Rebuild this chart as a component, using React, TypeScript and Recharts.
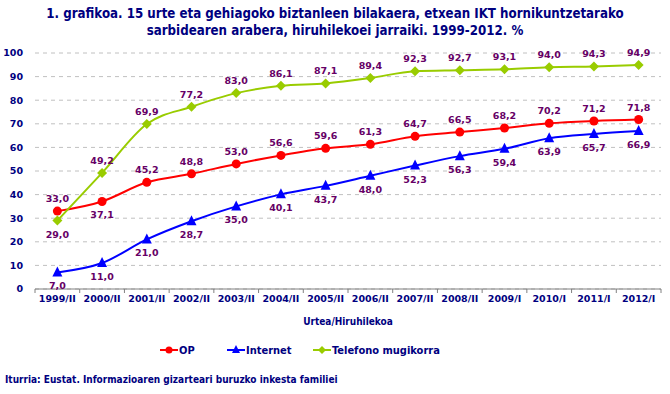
import { LineChart, Line, XAxis, YAxis, CartesianGrid, LabelList } from "recharts";

const periods = [
  "1999/II", "2000/II", "2001/II", "2002/II", "2003/II", "2004/II", "2005/II",
  "2006/II", "2007/II", "2008/II", "2009/I", "2010/I", "2011/I", "2012/I",
];
const op = [33.0, 37.1, 45.2, 48.8, 53.0, 56.6, 59.6, 61.3, 64.7, 66.5, 68.2, 70.2, 71.2, 71.8];
const internet = [7.0, 11.0, 21.0, 28.7, 35.0, 40.1, 43.7, 48.0, 52.3, 56.3, 59.4, 63.9, 65.7, 66.9];
const mobile = [29.0, 49.2, 69.9, 77.2, 83.0, 86.1, 87.1, 89.4, 92.3, 92.7, 93.1, 94.0, 94.3, 94.9];
const yTicks = [0, 10, 20, 30, 40, 50, 60, 70, 80, 90, 100];

// label above (1) or below (-1) the point
const opSide = [1, -1, 1, 1, 1, 1, 1, 1, 1, 1, 1, 1, 1, 1];
const internetSide = periods.map(() => -1);
const mobileSide = [-1, 1, 1, 1, 1, 1, 1, 1, 1, 1, 1, 1, 1, 1];

const data = periods.map((p, i) => ({ p, op: op[i], internet: internet[i], mobile: mobile[i] }));

const NAVY = "#000080";
const LABEL = "#660066";
const FONT = "'DejaVu Sans', Verdana, sans-serif";
const TFONT = "'DejaVu Sans Condensed', 'DejaVu Sans', Tahoma, sans-serif";

const W = 670;
const H = 394;
const margin = { top: 53, right: 9, left: 0, bottom: 75 };
const yAxisW = 35;
const step = (W - margin.right - yAxisW) / periods.length;

const fmt = (v: number) => v.toFixed(1).replace(".", ",");

const makeLabel = (sides: number[]) => (props: any) => {
  const { x, y, value, index } = props;
  const s = sides[index];
  return (
    <text x={x} y={s > 0 ? y - 9 : y + 17} textAnchor="middle" fill={LABEL}
      fontSize={9.5} fontWeight="bold" fontFamily={FONT}>
      {fmt(value)}
    </text>
  );
};

const circleDot = (props: any) => (
  <circle key={props.index} cx={props.cx} cy={props.cy} r={4.5} fill="#ff0000" />
);
const triDot = (props: any) => {
  const { cx, cy } = props;
  return <path key={props.index} d={`M${cx},${cy - 6} L${cx + 5},${cy + 4} L${cx - 5},${cy + 4} Z`} fill="#0000ff" />;
};
const diaDot = (props: any) => {
  const { cx, cy } = props;
  return <path key={props.index} d={`M${cx},${cy - 5} L${cx + 5},${cy} L${cx},${cy + 5} L${cx - 5},${cy} Z`} fill="#99cc00" />;
};

const XTick = (props: any) => {
  const { x, payload, index } = props;
  const ay = 289;
  return (
    <g>
      <line x1={x - step / 2} x2={x - step / 2} y1={ay} y2={ay + 4} stroke="#808080" />
      {index === periods.length - 1 && (
        <line x1={x + step / 2} x2={x + step / 2} y1={ay} y2={ay + 4} stroke="#808080" />
      )}
      <text x={x} y={ay + 13} textAnchor="middle" fill={NAVY} fontSize={9.5}
        fontWeight="bold" fontFamily={FONT}>
        {payload.value}
      </text>
    </g>
  );
};

function LegendItem({ color, shape, label, left }: { color: string; shape: string; label: string; left: number }) {
  return (
    <div style={{ position: "absolute", left, top: 343, display: "flex", alignItems: "center" }}>
      <svg width={18} height={14}>
        <line x1={0} x2={18} y1={7} y2={7} stroke={color} strokeWidth={2} />
        {shape === "circle" && <circle cx={9} cy={7} r={3.5} fill={color} />}
        {shape === "tri" && <path d="M9,2 L13,10 L5,10 Z" fill={color} />}
        {shape === "dia" && <path d="M9,3 L13,7 L9,11 L5,7 Z" fill={color} />}
      </svg>
      <span style={{ color: NAVY, fontWeight: "bold", fontSize: 11, fontFamily: TFONT, marginLeft: 1 }}>{label}</span>
    </div>
  );
}

export default function App() {
  return (
    <div style={{ position: "absolute", left: 0, top: 0, width: W, height: H, background: "#fff" }}>
      <div style={{
        position: "absolute", left: 0, top: 5, width: W, textAlign: "center", color: NAVY,
        fontFamily: TFONT, fontWeight: "bold", fontSize: 13.2, lineHeight: "17px",
      }}>
        1. grafikoa. 15 urte eta gehiagoko biztanleen bilakaera, etxean IKT hornikuntzetarako
        <br />
        sarbidearen arabera, hiruhilekoei jarraiki. 1999-2012. %
      </div>
      <LineChart width={W} height={H} data={data} margin={margin}>
        <CartesianGrid vertical={false} stroke="#c0c0c0" strokeDasharray="4 4" />
        <XAxis dataKey="p" height={30} tick={<XTick />} tickLine={false} tickSize={0}
          axisLine={{ stroke: "#808080" }} interval={0}
          padding={{ left: step / 2, right: step / 2 }} />
        <YAxis width={yAxisW} domain={[0, 100]} ticks={yTicks} axisLine={false} tickLine={false}
          tickMargin={6} interval={0}
          tick={{ fill: NAVY, fontSize: 9.5, fontWeight: "bold", fontFamily: FONT }} />
        <Line type="monotone" dataKey="op" stroke="#ff0000" strokeWidth={2} dot={circleDot}
          isAnimationActive={false}>
          <LabelList dataKey="op" content={makeLabel(opSide)} />
        </Line>
        <Line type="monotone" dataKey="internet" stroke="#0000ff" strokeWidth={2} dot={triDot}
          isAnimationActive={false}>
          <LabelList dataKey="internet" content={makeLabel(internetSide)} />
        </Line>
        <Line type="monotone" dataKey="mobile" stroke="#99cc00" strokeWidth={2} dot={diaDot}
          isAnimationActive={false}>
          <LabelList dataKey="mobile" content={makeLabel(mobileSide)} />
        </Line>
      </LineChart>
      <div style={{
        position: "absolute", left: 0, top: 316, width: W + 26, textAlign: "center", color: NAVY,
        fontFamily: TFONT, fontWeight: "bold", fontSize: 10,
      }}>
        Urtea/Hiruhilekoa
      </div>
      <LegendItem color="#ff0000" shape="circle" label="OP" left={160} />
      <LegendItem color="#0000ff" shape="tri" label="Internet" left={227} />
      <LegendItem color="#99cc00" shape="dia" label="Telefono mugikorra" left={313} />
      <div style={{
        position: "absolute", left: 5, top: 374, color: NAVY,
        fontFamily: TFONT, fontWeight: "bold", fontSize: 10,
      }}>
        Iturria: Eustat. Informazioaren gizarteari buruzko inkesta familiei
      </div>
    </div>
  );
}
